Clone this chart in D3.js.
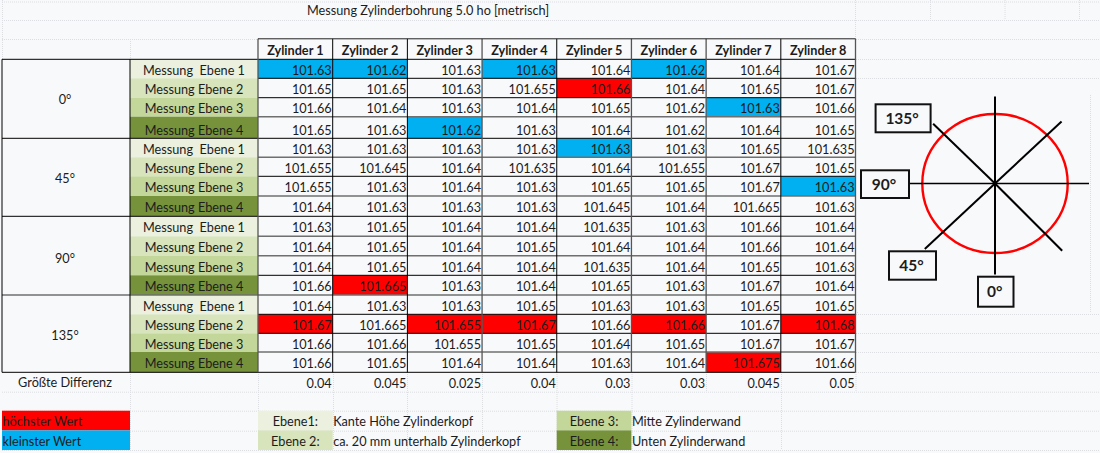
<!DOCTYPE html>
<html lang="de">

<head>
  <meta charset="UTF-8">
  <title>Messung Zylinderbohrung</title>
  <style>
    html, body { margin: 0; padding: 0; background: #f8f9fb; overflow: hidden; }
    text { font-family: Lato, "Open Sans", sans-serif; font-size: 12.7px; fill: #1c1c1c; white-space: pre; }
  </style>
</head>

<body>
  <svg id="svg" width="1100" height="453"></svg>

  <script src="https://d3js.org/d3.v7.min.js"></script>
  <script>
    const title = 'Messung Zylinderbohrung 5.0 ho [metrisch]'
    const cylinders = ['Zylinder 1', 'Zylinder 2', 'Zylinder 3', 'Zylinder 4', 'Zylinder 5', 'Zylinder 6', 'Zylinder 7', 'Zylinder 8']
    const angles = ['0°', '45°', '90°', '135°']
    const levels = ['Messung  Ebene 1', 'Messung Ebene 2', 'Messung Ebene 3', 'Messung Ebene 4']

    const values0 = [
      [101.63, 101.62, 101.63, 101.63, 101.64, 101.62, 101.64, 101.67],
      [101.65, 101.65, 101.63, 101.655, 101.66, 101.64, 101.65, 101.67],
      [101.66, 101.64, 101.63, 101.64, 101.65, 101.62, 101.63, 101.66],
      [101.65, 101.63, 101.62, 101.63, 101.64, 101.62, 101.64, 101.65]
    ]
    const values45 = [
      [101.63, 101.63, 101.63, 101.63, 101.63, 101.63, 101.65, 101.635],
      [101.655, 101.645, 101.64, 101.635, 101.64, 101.655, 101.67, 101.65],
      [101.655, 101.63, 101.64, 101.63, 101.65, 101.65, 101.67, 101.63],
      [101.64, 101.63, 101.63, 101.63, 101.645, 101.64, 101.665, 101.63]
    ]
    const values90 = [
      [101.63, 101.65, 101.64, 101.64, 101.635, 101.63, 101.66, 101.64],
      [101.64, 101.65, 101.64, 101.65, 101.64, 101.64, 101.66, 101.64],
      [101.64, 101.65, 101.64, 101.64, 101.635, 101.64, 101.65, 101.63],
      [101.66, 101.665, 101.63, 101.64, 101.65, 101.63, 101.67, 101.64]
    ]
    const values135 = [
      [101.64, 101.63, 101.63, 101.65, 101.63, 101.63, 101.65, 101.65],
      [101.67, 101.665, 101.655, 101.67, 101.66, 101.66, 101.67, 101.68],
      [101.66, 101.66, 101.655, 101.65, 101.64, 101.65, 101.67, 101.67],
      [101.66, 101.65, 101.64, 101.64, 101.63, 101.64, 101.675, 101.66]
    ]
    const differences = [0.04, 0.045, 0.025, 0.04, 0.03, 0.03, 0.045, 0.05]

    // row-column of the marked cells
    const lowestCells = ['0-0', '0-1', '0-3', '0-5', '2-6', '3-2', '4-4', '6-7']
    const highestCells = ['1-4', '11-1', '13-0', '13-2', '13-3', '13-5', '13-7', '15-6']

    const legendMarks = ['höchster Wert', 'kleinster Wert']
    const levelNotes = [
      ['Ebene1:', 'Kante Höhe Zylinderkopf'],
      ['Ebene 2:', 'ca. 20 mm unterhalb Zylinderkopf'],
      ['Ebene 3:', 'Mitte Zylinderwand'],
      ['Ebene 4:', 'Unten Zylinderwand']
    ]

    // direction and length of the spokes in the little sketch
    const spokeAngles = [0, 47, 90, 135, 180, 227, 270, 314]
    const spokeLengths = [87, 91, 94, 95, 91, 96, 91, 86]
    const sketchLabels = ['135°', '90°', '45°', '0°']

    const rows = [...values0, ...values45, ...values90, ...values135]
    const levelColors = ['#ebf1de', '#d8e4bc', '#c4d79b', '#76933c']
    const RED = '#ff0000', BLUE = '#00b0f0', GRID = '#dcdee1'

    const svg = d3.select('#svg')

    // Excel rows are not quite even, so y is piecewise
    const rowEdges = [59.3, 78.3, 97.7, 116.7, 138.3, 157.3, 176.3, 196, 216.3, 236.3, 255.7, 275.3, 295, 314.3, 333.3, 352, 372.3]
    const yScale = d3.scaleLinear().domain(d3.range(rowEdges.length)).range(rowEdges)
    const xScale = d3.scaleBand().domain(d3.range(cylinders.length)).range([258, 855.5])
    // the tall fourth row of the first block sits lower
    const rowBase = i => (yScale(i) + yScale(i + 1)) / 2 + (i === 3 ? 7.5 : 6)

    // dotted sheet grid
    const hGrid = [[2, 1100, 1.5], [2, 1100, 20], [2, 258, 39], [856, 1100, 39], [856, 1100, 59], [856, 1100, 78],
      [856, 1100, 314], [856, 1100, 333], [856, 1100, 352], [856, 1100, 372], [2, 1100, 391.7], [2, 1100, 410.7], [2, 1100, 430.7], [2, 1100, 450]]
    svg.append('g').selectAll('line').data(hGrid).enter().append('line')
      .attr('x1', d => d[0]).attr('x2', d => d[1]).attr('y1', d => d[2] + 0.5).attr('y2', d => d[2] + 0.5)
      .attr('stroke', GRID).attr('stroke-dasharray', '1 1')
    const vGrid = [[2, 0, 59], [130, 39, 59], [855, 0, 39], [930, 0, 20], [1004.5, 0, 20], [1079, 0, 20],
      [130, 372, 450], [258, 372, 450], [333, 372, 450], [407, 372, 450], [482, 372, 450], [556.5, 372, 450], [631.5, 372, 450],
      [706, 372, 391], [781, 372, 450], [855.5, 372, 391], [1090, 95, 312], [857, 312, 314]]
    svg.append('g').selectAll('line').data(vGrid).enter().append('line')
      .attr('x1', d => d[0] + 0.5).attr('x2', d => d[0] + 0.5).attr('y1', d => d[1]).attr('y2', d => d[2])
      .attr('stroke', GRID).attr('stroke-dasharray', '1 1')

    svg.append('text').attr('x', 307).attr('y', 15).text(title)

    // level labels
    const levelRow = svg.append('g').selectAll('g').data(rows).enter().append('g')
    levelRow.append('rect')
      .attr('x', 130).attr('width', 128)
      .attr('y', (d, i) => yScale(i)).attr('height', (d, i) => yScale(i + 1) - yScale(i))
      .attr('fill', (d, i) => levelColors[i % 4])
    levelRow.append('text')
      .attr('x', 194).attr('y', (d, i) => rowBase(i))
      .attr('text-anchor', 'middle')
      .text((d, i) => levels[i % 4])

    // values
    const cells = rows.flatMap((row, r) => row.map((v, c) => ({ r, c, v, key: r + '-' + c })))
    const cellFill = d => highestCells.includes(d.key) ? RED : lowestCells.includes(d.key) ? BLUE : 'none'
    svg.append('g').selectAll('rect').data(cells).enter().append('rect')
      .attr('x', d => xScale(d.c)).attr('width', xScale.bandwidth())
      .attr('y', d => yScale(d.r)).attr('height', d => yScale(d.r + 1) - yScale(d.r))
      .attr('fill', cellFill)

    // rules: dark ones crisp, the grey ones came out thicker in the screenshot
    const greyRules = [3, 5, 7, 9, 10, 12, 15]
    svg.append('g').selectAll('line').data(d3.range(rowEdges.length)).enter().append('line')
      .attr('x1', d => d % 4 === 0 ? 2 : 258).attr('x2', 855.5)
      .attr('y1', d => yScale(d)).attr('y2', d => yScale(d))
      .attr('stroke', d => greyRules.includes(d) ? '#6f6f6f' : '#000')
      .attr('stroke-width', d => greyRules.includes(d) ? 1.4 : 1)
    const headerY = [38.8, 59.3]
    const colEdges = d3.range(cylinders.length + 1)
    const greyCols = [0, 3, 5, 6, 8]
    svg.append('g').selectAll('line').data(colEdges).enter().append('line')
      .attr('x1', d => 258 + d * xScale.bandwidth()).attr('x2', d => 258 + d * xScale.bandwidth())
      .attr('y1', headerY[0]).attr('y2', yScale(16))
      .attr('stroke', d => greyCols.includes(d) ? '#555' : '#000')
      .attr('stroke-width', d => greyCols.includes(d) ? 1.3 : 1)
    svg.append('line').attr('x1', 258).attr('x2', 855.5).attr('y1', headerY[0]).attr('y2', headerY[0]).attr('stroke', '#222')
    svg.append('g').selectAll('line').data([2, 130]).enter().append('line')
      .attr('x1', d => d).attr('x2', d => d).attr('y1', yScale(0)).attr('y2', yScale(16)).attr('stroke', '#000')

    svg.append('g').selectAll('text').data(cells).enter().append('text')
      .attr('x', d => xScale(d.c) + xScale.bandwidth() - 1)
      .attr('y', d => rowBase(d.r))
      .attr('text-anchor', 'end')
      .text(d => d.v)

    // headers
    svg.append('g').selectAll('text').data(cylinders).enter().append('text')
      .attr('x', (d, i) => xScale(i) + xScale.bandwidth() / 2).attr('y', 54.5)
      .attr('text-anchor', 'middle').attr('font-weight', 700)
      .text(d => d)

    // angle groups
    svg.append('g').selectAll('text').data(angles).enter().append('text')
      .attr('x', 65).attr('y', (d, i) => yScale(i * 4 + 2) + 5 + (i === 0 ? 1 : 2))
      .attr('text-anchor', 'middle')
      .text(d => d)

    // bottom row
    svg.append('text').attr('x', 65).attr('y', 387).attr('text-anchor', 'middle').text('Größte Differenz')
    svg.append('g').selectAll('text').data(differences).enter().append('text')
      .attr('x', (d, i) => xScale(i) + xScale.bandwidth() - 1).attr('y', 388)
      .attr('text-anchor', 'end')
      .text(d => d)

    // legend
    const legendY = d3.scaleBand().domain([0, 1]).range([410.7, 450])
    svg.append('g').selectAll('rect').data(legendMarks).enter().append('rect')
      .attr('x', 2).attr('width', 128).attr('y', (d, i) => legendY(i)).attr('height', legendY.bandwidth())
      .attr('fill', (d, i) => i === 0 ? RED : BLUE)
    svg.append('g').selectAll('text').data(legendMarks).enter().append('text')
      .attr('x', 2.5).attr('y', (d, i) => legendY(i) + 15.5)
      .text(d => d)

    const noteX = [258, 258, 556.7, 556.7]
    const note = svg.append('g').selectAll('g').data(levelNotes).enter().append('g')
    note.append('rect')
      .attr('x', (d, i) => noteX[i]).attr('width', xScale.bandwidth())
      .attr('y', (d, i) => legendY(i % 2)).attr('height', legendY.bandwidth())
      .attr('fill', (d, i) => levelColors[i])
    note.append('text')
      .attr('x', (d, i) => noteX[i] + xScale.bandwidth() / 2).attr('y', (d, i) => legendY(i % 2) + 15.5)
      .attr('text-anchor', 'middle')
      .text(d => d[0])
    note.append('text')
      .attr('x', (d, i) => noteX[i] + xScale.bandwidth() + 0.5).attr('y', (d, i) => legendY(i % 2) + 15.5)
      .text(d => d[1])

    // sketch of the measuring directions
    const sketch = svg.append('g').attr('transform', 'translate(995,183.5)')
    sketch.append('ellipse').attr('rx', 72.7).attr('ry', 69.5)
      .attr('fill', 'none').attr('stroke', '#ff0000').attr('stroke-width', 2.4)
    sketch.selectAll('line').data(spokeAngles).enter().append('line')
      .attr('x2', (d, i) => d3.pointRadial(d * Math.PI / 180, spokeLengths[i])[0])
      .attr('y2', (d, i) => d3.pointRadial(d * Math.PI / 180, spokeLengths[i])[1])
      .attr('stroke', '#000').attr('stroke-width', (d, i) => i % 4 === 2 ? 1.4 : 2)

    const sketchBoxes = [[875.6, 104.3, 55, 28], [861, 170.3, 48, 27.7], [889, 251.3, 47, 28.4], [978, 276.7, 35.5, 30]]
    const label = svg.append('g').selectAll('g').data(sketchLabels).enter().append('g')
    label.append('rect')
      .attr('x', (d, i) => sketchBoxes[i][0]).attr('y', (d, i) => sketchBoxes[i][1])
      .attr('width', (d, i) => sketchBoxes[i][2]).attr('height', (d, i) => sketchBoxes[i][3])
      .attr('fill', '#f8f9fb').attr('stroke', '#111').attr('stroke-width', 2)
    label.append('text')
      .attr('x', (d, i) => sketchBoxes[i][0] + sketchBoxes[i][2] / 2 - 1)
      .attr('y', (d, i) => sketchBoxes[i][1] + sketchBoxes[i][3] / 2 + 5.5)
      .attr('text-anchor', 'middle').attr('font-weight', 700)
      .style('font-size', '15.5px')
      .text(d => d)
  </script>
</body>

</html>
